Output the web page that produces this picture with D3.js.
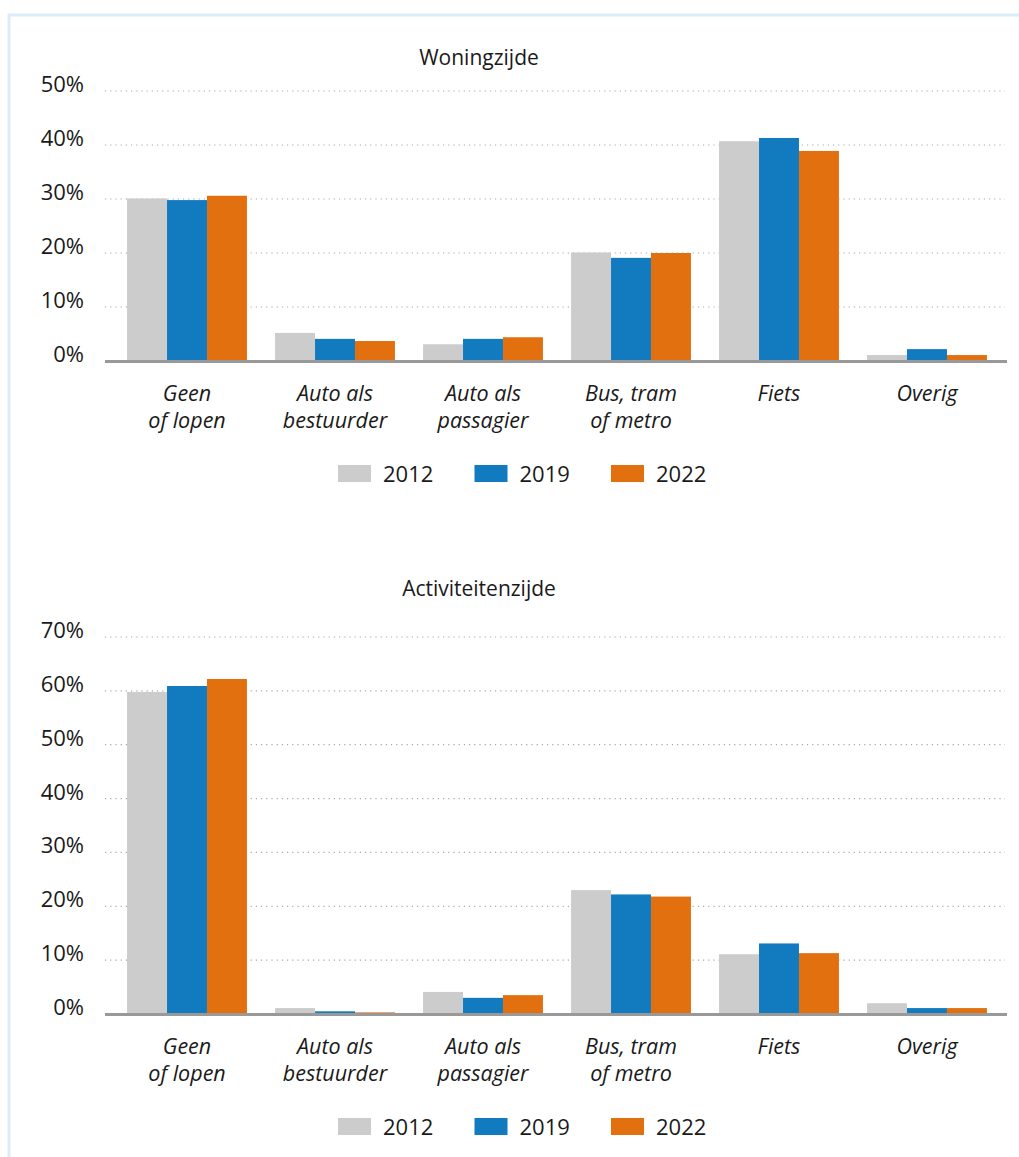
<!DOCTYPE html>
<html>
<head>
<meta charset="utf-8">
<script src="https://cdn.jsdelivr.net/npm/d3@7"></script>
<style>
  body { margin: 0; background: #fff; }
  svg text { font-family: "Open Sans", sans-serif; fill: #1a1a1a; }
</style>
</head>
<body>
<script>
// categories (multi-line labels split on "\n")
var categories = ["Geen\nof lopen", "Auto als\nbestuurder", "Auto als\npassagier", "Bus, tram\nof metro", "Fiets", "Overig"];
var years = ["2012", "2019", "2022"];
var colors = ["#cccccd", "#127bbf", "#e2700f"];

// Woningzijde, % per year
var woning2012 = [30.1, 5.2, 3.1, 20.1, 40.7, 1.1];
var woning2019 = [29.8, 4.1, 4.1, 19.1, 41.3, 2.2];
var woning2022 = [30.6, 3.7, 4.4, 20.0, 38.9, 1.1];
var woningTicks = [0, 10, 20, 30, 40, 50];

// Activiteitenzijde, % per year
var activ2012 = [59.8, 1.1, 4.1, 23.0, 11.1, 2.0];
var activ2019 = [60.9, 0.5, 3.0, 22.2, 13.1, 1.1];
var activ2022 = [62.2, 0.3, 3.5, 21.8, 11.3, 1.1];
var activTicks = [0, 10, 20, 30, 40, 50, 60, 70];

var width = 1019, height = 1157;
var font = "'Open Sans', sans-serif";

var svg = d3.select("body")
  .append("svg")
  .attr("width", width)
  .attr("height", height);

// light blue frame on the left and top
svg.append("path")
  .attr("d", "M9,1157V15H1019")
  .attr("fill", "none")
  .attr("stroke", "#dcedf8")
  .attr("stroke-width", 3);

// one grouped bar chart
function drawChart(title, series, ticks, top, bottom, titleY) {
  var g = svg.append("g");

  var x0 = d3.scaleBand()
    .domain(categories)
    .range([113, 1001])
    .paddingInner(0.19)
    .paddingOuter(0.095);

  var x1 = d3.scaleBand()
    .domain(years)
    .range([0, x0.bandwidth()]);

  var y = d3.scaleLinear()
    .domain([0, d3.max(ticks)])
    .range([bottom, top]);

  // title
  g.append("text")
    .attr("x", 479)
    .attr("y", titleY)
    .attr("text-anchor", "middle")
    .attr("font-size", 21)
    .text(title);

  // dotted gridlines
  g.selectAll(".grid")
    .data(ticks.filter(function(d) { return d > 0; }))
    .enter().append("line")
    .attr("x1", 105).attr("x2", 1005)
    .attr("y1", function(d) { return y(d); })
    .attr("y2", function(d) { return y(d); })
    .attr("stroke", "#a8a8a8")
    .attr("stroke-width", 1.2)
    .attr("stroke-dasharray", "1.2,4");

  // y labels
  var yAxis = g.append("g")
    .attr("transform", "translate(84,0)")
    .call(d3.axisLeft(y).tickValues(ticks).tickSize(0).tickPadding(0)
      .tickFormat(function(d) { return d + "%"; }));
  yAxis.select(".domain").remove();
  yAxis.selectAll("text")
    .attr("dy", "0.02em")
    .attr("font-size", 22)
    .style("font-family", font)
    .attr("fill", "#1a1a1a");

  // bars
  var rows = categories.map(function(c, i) {
    return years.map(function(yr, j) { return { cat: c, year: yr, value: series[j][i] }; });
  });
  g.selectAll(".grp")
    .data(rows)
    .enter().append("g")
    .attr("transform", function(d) { return "translate(" + x0(d[0].cat) + ",0)"; })
    .selectAll("rect")
    .data(function(d) { return d; })
    .enter().append("rect")
    .attr("x", function(d) { return x1(d.year); })
    .attr("width", x1.bandwidth())
    .attr("y", function(d) { return y(d.value); })
    .attr("height", function(d) { return y(0) - y(d.value); })
    .attr("fill", function(d, j) { return colors[j]; });

  // baseline
  g.append("line")
    .attr("x1", 105).attr("x2", 1007)
    .attr("y1", y(0) + 0.5).attr("y2", y(0) + 0.5)
    .attr("stroke", "#999")
    .attr("stroke-width", 3);

  // category labels
  var xAxis = g.append("g")
    .attr("transform", "translate(0," + y(0) + ")")
    .call(d3.axisBottom(x0).tickSize(0));
  xAxis.select(".domain").remove();
  xAxis.selectAll("text").each(function(d) {
    var t = d3.select(this).text("").attr("dy", null)
      .attr("y", 40)
      .attr("font-size", 21.5)
      .attr("font-style", "italic")
      .style("font-family", font)
      .attr("fill", "#1a1a1a");
    d.split("\n").forEach(function(line, k) {
      t.append("tspan").attr("x", 0).attr("y", 40 + k * 27).text(line);
    });
  });

  // legend
  var legend = g.selectAll(".legend")
    .data(years)
    .enter().append("g")
    .attr("transform", function(d, i) { return "translate(" + (338 + i * 136.5) + "," + (bottom + 104) + ")"; });
  legend.append("rect")
    .attr("width", 33).attr("height", 17)
    .attr("fill", function(d, i) { return colors[i]; });
  legend.append("text")
    .attr("x", 45).attr("y", 16.5)
    .attr("font-size", 22)
    .text(function(d) { return d; });
}

drawChart("Woningzijde", [woning2012, woning2019, woning2022], woningTicks, 91, 361, 65);
drawChart("Activiteitenzijde", [activ2012, activ2019, activ2022], activTicks, 637, 1014, 596);
</script>
</body>
</html>
